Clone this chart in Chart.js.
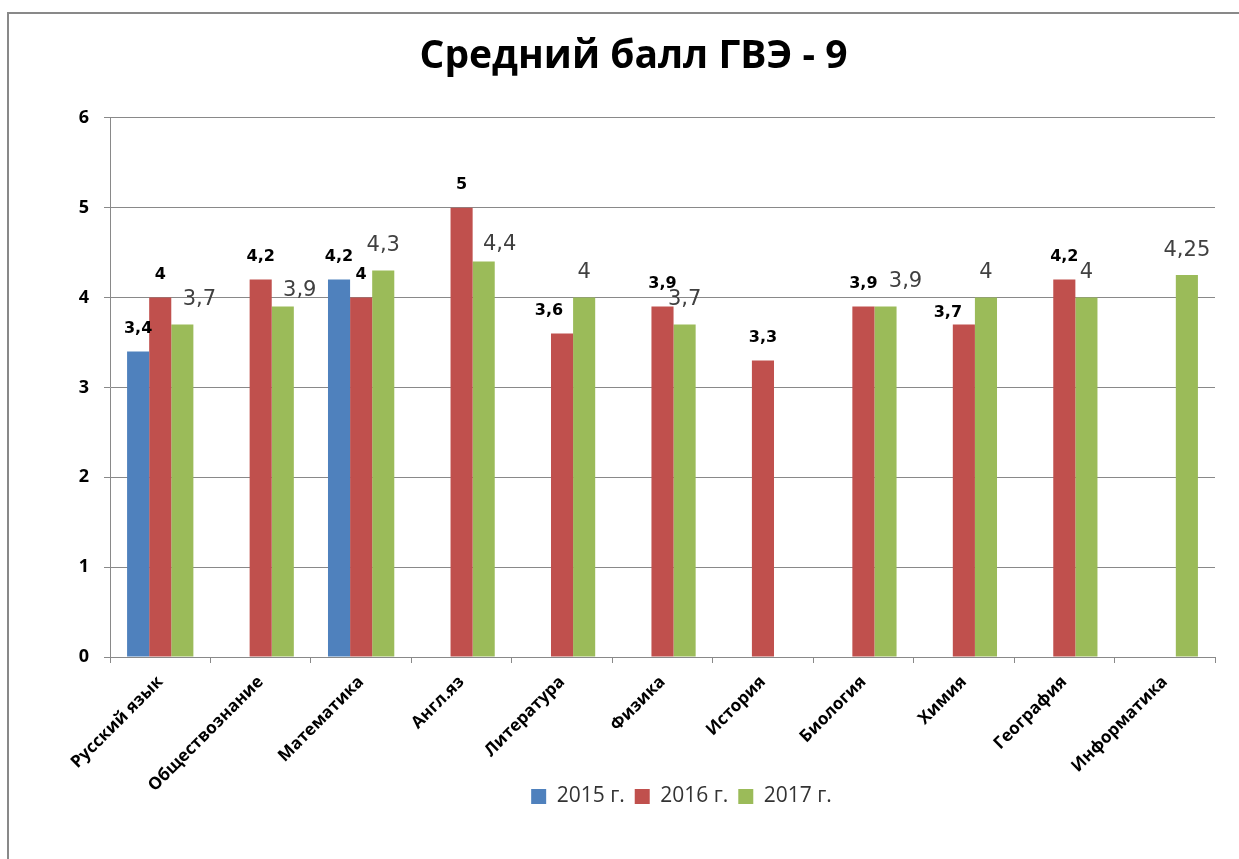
<!DOCTYPE html>
<html>
<head>
<meta charset="utf-8">
<script src="https://cdn.jsdelivr.net/npm/chart.js@4"></script>
<style>
  body { margin: 0; background: #fff; overflow: hidden; }
  #wrap { position: relative; width: 1239px; height: 859px; }
  #frame { position: absolute; left: 7px; top: 12px; width: 1300px; height: 900px;
           border: 2px solid #898989; pointer-events: none; }
</style>
</head>
<body>
<div id="wrap">
  <canvas id="chart" width="1239" height="859"></canvas>
  <div id="frame"></div>
</div>
<script>
var subjects = ['Русский язык', 'Обществознание', 'Математика', 'Англ.яз', 'Литература',
    'Физика', 'История', 'Биология', 'Химия', 'География', 'Информатика'];
var years = ['2015 г.', '2016 г.', '2017 г.'];
var score2015 = [3.4, null, 4.2, null, null, null, null, null, null, null, null];
var score2016 = [4, 4.2, 4, 5, 3.6, 3.9, 3.3, 3.9, 3.7, 4.2, null];
var score2017 = [3.7, 3.9, 4.3, 4.4, 4, 3.7, null, 3.9, 4, 4, 4.25];
var yTicks = [0, 1, 2, 3, 4, 5, 6];

// label nudges (pixels), as placed in the original
var shiftX = [
    [0, 0, 0, 0, 0, 0, 0, 0, 0, 0, 0],
    [0, 0, 0, 0, -13, 0, 0, 0, -16, 0, 0],
    [17, 17, 0, 16, 0, 0, 0, 20, 0, 0, 0]
];
var shiftY = [
    [0, 0, 0, 0, 0, 0, 0, 0, 0, 0, 0],
    [0, 0, 0, 0, 0, 0, 0, 0, 11, 0, 0],
    [0, 9, 0, 8, 0, 0, 0, 0, 0, 0, 0]
];

var valueLabels = {
    id: 'valueLabels',
    afterLayout: function(chart) {
        // legend sits right of centre and tucked under the labels in the original
        var lg = chart.legend;
        lg.left += 48;
        lg.right += 48;
        lg.top -= 21;
        lg.bottom -= 21;
    },
    afterDatasetsDraw: function(chart) {
        var ctx = chart.ctx;
        ctx.save();
        ctx.textAlign = 'center';
        ctx.textBaseline = 'middle';
        chart.data.datasets.forEach(function(ds, di) {
            var meta = chart.getDatasetMeta(di);
            meta.data.forEach(function(bar, i) {
                var v = ds.data[i];
                if (v === null) return;
                var txt = String(v).replace('.', ',');
                if (di === 2) {
                    ctx.font = '21px "DejaVu Sans"';
                    ctx.fillStyle = '#404040';
                    ctx.fillText(txt, bar.x + shiftX[di][i], bar.y - 25 + shiftY[di][i]);
                } else {
                    ctx.font = 'bold 16px "DejaVu Sans"';
                    ctx.fillStyle = '#000';
                    ctx.fillText(txt, bar.x + shiftX[di][i], bar.y - 23 + shiftY[di][i]);
                }
            });
        });
        ctx.restore();
    }
};

new Chart(document.getElementById('chart'), {
    type: 'bar',
    data: {
        labels: subjects,
        datasets: [{
            label: years[0],
            data: score2015,
            backgroundColor: '#4F81BD'
        }, {
            label: years[1],
            data: score2016,
            backgroundColor: '#C0504D'
        }, {
            label: years[2],
            data: score2017,
            backgroundColor: '#9BBB59'
        }]
    },
    options: {
        responsive: false,
        animation: false,
        categoryPercentage: 0.66,
        barPercentage: 1,
        layout: { padding: { left: 52, right: 24, top: 15, bottom: 21 } },
        plugins: {
            title: {
                display: true,
                text: 'Средний балл ГВЭ - 9',
                color: '#000',
                font: { family: 'Open Sans', size: 39, weight: 'bold', lineHeight: 1.2 },
                padding: { top: 18, bottom: 38 }
            },
            legend: {
                position: 'bottom',
                labels: {
                    boxWidth: 15,
                    boxHeight: 15,
                    padding: 10,
                    color: '#333',
                    font: { family: 'Open Sans', size: 21 }
                }
            },
            tooltip: { enabled: false }
        },
        scales: {
            x: {
                grid: { display: true, drawOnChartArea: false, tickLength: 6, color: '#898989' },
                border: { color: '#898989' },
                ticks: {
                    autoSkip: false,
                    minRotation: 45,
                    maxRotation: 45,
                    padding: 9,
                    color: '#000',
                    font: { family: 'Open Sans', size: 17, weight: 'bold' }
                },
                afterFit: function(s) { s.height = 140; }
            },
            y: {
                min: 0,
                max: 6,
                afterBuildTicks: function(s) { s.ticks = yTicks.map(function(v) { return { value: v }; }); },
                grid: { color: '#898989', tickLength: 6 },
                border: { color: '#898989' },
                ticks: {
                    padding: 15,
                    color: '#000',
                    font: { family: 'Open Sans', size: 18, weight: 'bold' }
                },
                afterFit: function(s) { s.width = 58; }
            }
        }
    },
    plugins: [valueLabels]
});
</script>
</body>
</html>
